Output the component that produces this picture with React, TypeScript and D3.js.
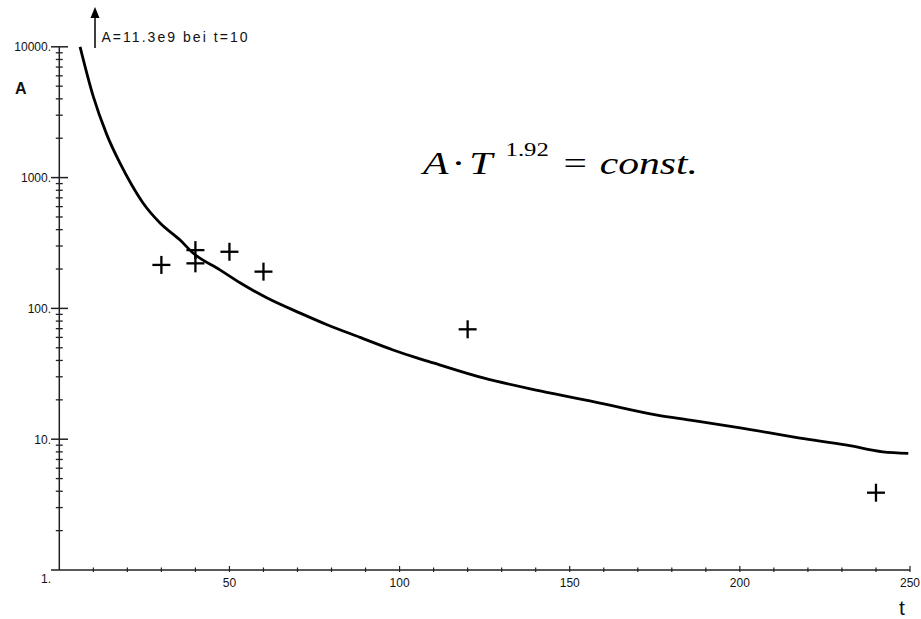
import * as d3 from "d3";

// fitted curve A(t)
const curveT = [6.1, 10.0, 13.9, 17.8, 21.3, 24.6, 29.6, 35.5, 39.3, 47.2, 53.1, 61.1, 70.8, 78.7, 88.4, 98.1, 105.1, 109.9, 124.6, 141.3, 158.9, 175.7, 185.4, 200.1, 217.7, 231.5, 242.0, 249.5];
const curveA = [10000, 4155, 2150, 1294, 878, 640, 450, 333, 265, 197, 157, 120, 92.0, 75.0, 60.0, 48.1, 41.8, 38.3, 29.4, 23.4, 18.9, 15.3, 14.0, 12.2, 10.2, 9.0, 8.0, 7.8];

// measured points (+)
const measT = [30, 40, 40, 50, 60, 120, 240];
const measA = [215, 221, 279, 271, 191, 69.2, 3.9];

const yTicks = [1, 10, 100, 1000, 10000];
const yTickLabels = ["1.", "10.", "100.", "1000.", "10000."];
const xTicks = [50, 100, 150, 200, 250];
const xTickLabels = ["50", "100", "150", "200", "250"];

const W = 921;
const H = 619;

export default function App() {
  const x = d3.scaleLinear().domain([0, 250]).range([59.3, 910]);
  const y = d3.scaleLog().domain([1, 10000]).range([570, 46.8]);

  const curve = curveT.map((t, i) => [t, curveA[i]] as [number, number]);
  const line = d3
    .line<[number, number]>()
    .x((d) => x(d[0]))
    .y((d) => y(d[1]))
    .curve(d3.curveMonotoneX);

  const minorX = d3.range(10, 251, 10).filter((t) => t % 50 !== 0);
  const minorY: number[] = [];
  for (let k = 0; k < 4; k++) for (let m = 2; m <= 9; m++) minorY.push(m * Math.pow(10, k));

  const x0 = x(0);
  const axisCol = "#222";
  const sans = "'Liberation Sans', Arial, sans-serif";
  const serif = "'Liberation Serif', 'Times New Roman', serif";

  return (
    <svg width={W} height={H} style={{ position: "absolute", left: 0, top: 0, background: "#fff" }}>
      {/* axes */}
      <line x1={x0} x2={x0} y1={y(10000)} y2={y(1)} stroke={axisCol} strokeWidth={1.5} />
      <line x1={51} x2={x(250)} y1={y(1)} y2={y(1)} stroke={axisCol} strokeWidth={1.5} />

      {/* y ticks */}
      {yTicks.map((v, i) => (
        <g key={"yt" + v}>
          {v > 1 && <line x1={51} x2={68} y1={y(v)} y2={y(v)} stroke={axisCol} strokeWidth={1.5} />}
          <text
            x={51}
            y={v === 1 ? y(v) + 13 : y(v) + 4.5}
            textAnchor="end"
            fontFamily={sans}
            fontSize={12}
            fill="#111"
          >
            {yTickLabels[i]}
          </text>
        </g>
      ))}
      {minorY.map((v) => (
        <line key={"ym" + v} x1={x0 - 3.5} x2={x0 + 3.5} y1={y(v)} y2={y(v)} stroke={axisCol} strokeWidth={1.3} />
      ))}

      {/* x ticks */}
      {minorX.map((t) => (
        <line key={"xm" + t} x1={x(t)} x2={x(t)} y1={y(1) - 2.5} y2={y(1) + 2} stroke={axisCol} strokeWidth={1.2} />
      ))}
      {xTicks.map((t, i) => (
        <g key={"xt" + t}>
          <line x1={x(t)} x2={x(t)} y1={y(1) - 4} y2={y(1) + 2} stroke={axisCol} strokeWidth={1.2} />
          <text x={x(t)} y={587} textAnchor="middle" fontFamily={sans} fontSize={12} fill="#111">
            {xTickLabels[i]}
          </text>
        </g>
      ))}

      {/* axis titles */}
      <text x={15} y={94} fontFamily={sans} fontSize={16} fontWeight="bold" fill="#111">
        A
      </text>
      <text x={902} y={615} textAnchor="middle" fontFamily={sans} fontSize={21} fill="#111">
        t
      </text>

      {/* fitted curve */}
      <path d={line(curve) ?? ""} fill="none" stroke="#000" strokeWidth={2.8} strokeLinejoin="round" />

      {/* measured points */}
      {measT.map((t, i) => (
        <g key={"m" + i} stroke="#000" strokeWidth={2.3}>
          <line x1={x(t) - 9} x2={x(t) + 9} y1={y(measA[i])} y2={y(measA[i])} />
          <line x1={x(t)} x2={x(t)} y1={y(measA[i]) - 9} y2={y(measA[i]) + 9} />
        </g>
      ))}

      {/* arrow annotation: curve leaves the plot */}
      <line x1={95} x2={95} y1={48} y2={14} stroke="#000" strokeWidth={1.5} />
      <polygon points="95,7 90.5,18 99.5,18" fill="#000" />
      <text x={101.5} y={42} fontFamily={sans} fontSize={14} fill="#111" textLength={146} lengthAdjust="spacing">
        A=11.3e9 bei t=10
      </text>

      {/* formula, stretched horizontally like the original */}
      <g fontFamily={serif} fill="#000" transform="translate(423,174) scale(1.3,1)">
        <text x={0} y={0} fontSize={32} fontStyle="italic">A</text>
        <text x={22} y={0} fontSize={32}>·</text>
        <text x={35.5} y={0} fontSize={32} fontStyle="italic">T</text>
        <text x={63.5} y={-18} fontSize={19}>1.92</text>
        <text x={108} y={0} fontSize={32}>=</text>
        <text x={136} y={0} fontSize={32} fontStyle="italic">const.</text>
      </g>
    </svg>
  );
}
